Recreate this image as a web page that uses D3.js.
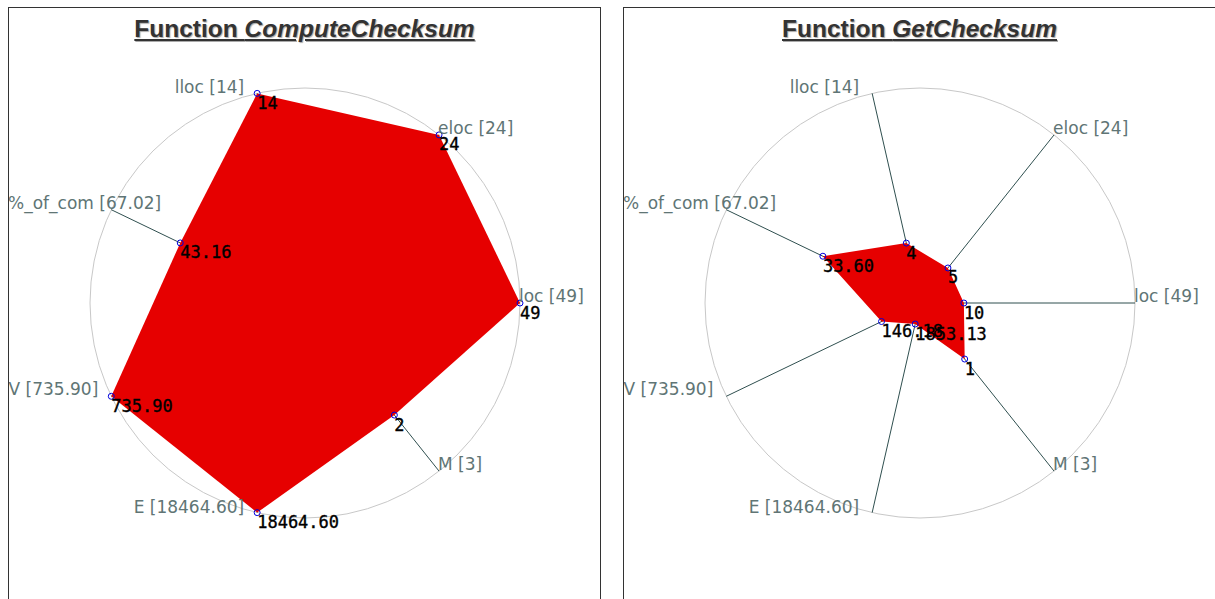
<!DOCTYPE html>
<html>
<head>
<meta charset="utf-8">
<script src="https://cdn.jsdelivr.net/npm/d3@7"></script>
<style>
  body { margin: 8px; background: #fff; overflow: hidden; }
  .panel {
    position: absolute;
    top: 7px;
    width: 591px;
    height: 620px;
    border: 1px solid #333;
    background: #fff;
  }
  .title {
    position: absolute;
    top: 7px;
    width: 100%;
    text-align: center;
    font: bold 24.5px "Liberation Sans", Arial, sans-serif;
    line-height: 28px;
    color: #333;
    text-decoration: underline;
    text-shadow: 1px 1px 1px #aaa;
  }
  svg { position: absolute; left: 0; top: 0; }
</style>
</head>
<body>
<div id="charts"></div>
<script>
const metrics = ["lloc", "eloc", "loc", "M", "E", "V", "%_of_com"];
const maxValues = [14, 24, 49, 3, 18464.60, 735.90, 67.02];
const maxLabels = ["14", "24", "49", "3", "18464.60", "735.90", "67.02"];

const functionNames = ["ComputeChecksum", "GetChecksum"];
const computeChecksumValues = [14, 24, 49, 2, 18464.60, 735.90, 43.16];
const computeChecksumLabels = ["14", "24", "49", "2", "18464.60", "735.90", "43.16"];
const getChecksumValues = [4, 5, 10, 1, 1853.13, 146.18, 33.60];
const getChecksumLabels = ["4", "5", "10", "1", "1853.13", "146.18", "33.60"];

const charts = [
  {name: functionNames[0], values: computeChecksumValues, labels: computeChecksumLabels, left: 0},
  {name: functionNames[1], values: getChecksumValues, labels: getChecksumLabels, left: 615}
];

const width = 591;
const height = 620;
const radius = 215;
const center = {x: 296, y: 295};
const step = 2 * Math.PI / metrics.length;
// loc (index 2) points to the right, axes go clockwise
const angle = i => (i - 2) * step;

const scales = maxValues.map(max => d3.scaleLinear().domain([0, max]).range([0, radius]));

const drawChart = chart => {
  const panel = d3.select("#charts")
    .append("div")
    .attr("class", "panel")
    .style("left", `${8 + chart.left}px`);

  const title = panel.append("div").attr("class", "title");
  title.append("span").text("Function ");
  title.append("i").text(chart.name);

  const svg = panel.append("svg")
    .attr("width", width)
    .attr("height", height);

  const g = svg.append("g")
    .attr("transform", `translate(${center.x}, ${center.y})`);

  g.append("circle")
    .attr("r", radius)
    .attr("fill", "none")
    .attr("stroke", "#c8c8c8")
    .attr("stroke-width", 1);

  const point = (i, value) => {
    const r = scales[i](value);
    return [r * Math.cos(angle(i)), r * Math.sin(angle(i))];
  };

  g.selectAll(".axis")
    .data(metrics)
    .enter()
    .append("line")
    .attr("class", "axis")
    .attr("x1", 0)
    .attr("y1", 0)
    .attr("x2", (d, i) => point(i, maxValues[i])[0])
    .attr("y2", (d, i) => point(i, maxValues[i])[1])
    .attr("stroke", "#2f4f4f")
    .attr("stroke-width", 1);

  const points = chart.values.map((v, i) => point(i, v));

  g.append("path")
    .datum(points)
    .attr("d", d3.line().curve(d3.curveLinearClosed))
    .attr("fill", "#e60000")
    .attr("stroke", "none");

  g.selectAll(".marker")
    .data(points)
    .enter()
    .append("circle")
    .attr("class", "marker")
    .attr("cx", d => d[0])
    .attr("cy", d => d[1])
    .attr("r", 3)
    .attr("fill", "none")
    .attr("stroke", "#0000dd")
    .attr("stroke-width", 1);

  g.selectAll(".value")
    .data(points)
    .enter()
    .append("text")
    .attr("class", "value")
    .attr("x", d => d[0])
    .attr("y", d => d[1] + 15.5)
    .attr("font-family", "'DejaVu Sans Mono', monospace")
    .attr("font-size", "17px")
    .attr("fill", "#000")
    .attr("stroke", "#000")
    .attr("stroke-width", 0.35)
    .text((d, i) => chart.labels[i]);

  g.selectAll(".label")
    .data(metrics)
    .enter()
    .append("text")
    .attr("class", "label")
    .attr("font-family", "'DejaVu Sans', sans-serif")
    .attr("font-size", "17px")
    .attr("fill", "#607575")
    .text((d, i) => `${d} [${maxLabels[i]}]`)
    .each(function (d, i) {
      const [x, y] = point(i, maxValues[i]);
      const textWidth = this.getComputedTextLength();
      let left = x > 1 ? x - 1 : x - 13 - textWidth;
      left = Math.max(left, -center.x - 1);
      d3.select(this)
        .attr("x", left)
        .attr("y", x > 1 || Math.abs(y) < 100 ? y - 1 : y);
    });
};

charts.forEach(drawChart);
</script>
</body>
</html>
